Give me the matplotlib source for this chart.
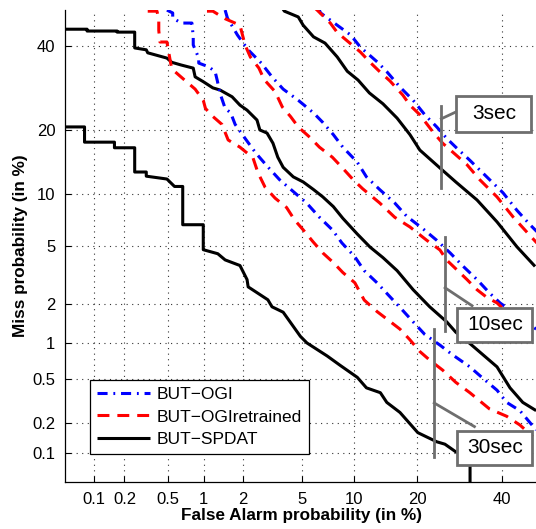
import math
import numpy as np
import matplotlib
matplotlib.use('Agg')
import matplotlib.pyplot as plt
from matplotlib.patches import Rectangle
from matplotlib.lines import Line2D
from matplotlib.ticker import FixedLocator, FixedFormatter, NullLocator

plt.rcParams['font.family'] = ['Liberation Sans', 'DejaVu Sans']

# ---- data (false alarm %, miss %) ----
# BUT-SPDAT (black)
spdat_3_fa = [3.75, 3.87, 4.75, 5.1, 5.9, 6.9, 8.1, 9.2, 10.5, 12.0, 14.0, 16.3, 18.6, 20.5, 24.7, 28.3, 33.5, 38.7, 44.1, 49.1]
spdat_3_miss = [50.5, 49.6, 48.0, 45.7, 42.5, 40.8, 37.1, 33.4, 31.2, 28.1, 25.6, 22.5, 19.2, 16.4, 13.5, 11.5, 9.24, 6.96, 4.92, 3.68]

spdat_10_fa = [0.05, 0.085, 0.085, 0.17, 0.17, 0.25, 0.25, 0.32, 0.33, 0.49, 0.54, 0.65, 0.82, 0.85, 0.99,
               1.18, 1.34, 1.66, 1.9, 2.14, 2.52, 2.64, 2.96, 3.25, 3.5, 3.8, 4.42, 5.1, 5.9, 6.7, 7.7, 8.7,
               10.4, 12.1, 14.0, 16.3, 19.2, 22.5, 26.2, 28.3, 31.7, 38.7, 42.2, 45.7, 49.4]
spdat_10_miss = [44.6, 44.6, 44.1, 44.1, 43.8, 43.8, 39.5, 39.0, 38.2, 36.8, 35.7, 35.0, 34.2, 32.0, 30.8,
                 29.3, 28.8, 27.2, 25.3, 24.2, 22.1, 20.1, 19.5, 17.6, 15.2, 13.6, 12.2, 11.5, 10.5, 9.6, 8.5, 7.3,
                 5.9, 4.9, 4.2, 3.45, 2.55, 1.92, 1.48, 1.23, 1.0, 0.64, 0.42, 0.31, 0.26]

spdat_30_fa = [0.05, 0.08, 0.08, 0.16, 0.16, 0.25, 0.25, 0.32, 0.32, 0.49, 0.57, 0.67, 0.67, 0.99, 0.99,
               1.29, 1.47, 1.9, 2.14, 2.18, 3.0, 3.2, 3.8, 4.9, 5.38, 7.1, 8.4, 10.4, 11.6, 13.6, 14.6,
               16.8, 20.1, 21.9, 24.0, 25.8, 28.3, 30.75, 31.75, 31.75]
spdat_30_miss = [20.7, 20.7, 17.8, 17.8, 16.8, 16.8, 12.9, 12.9, 12.3, 11.9, 10.9, 10.9, 6.7, 6.7, 4.72,
                 4.45, 4.06, 3.73, 3.0, 2.67, 2.16, 1.92, 1.75, 1.14, 1.01, 0.79, 0.66, 0.52, 0.42, 0.38, 0.31,
                 0.25, 0.16, 0.145, 0.13, 0.123, 0.103, 0.095, 0.088, 0.02]

# BUT-OGIretrained (red)
retr_3_fa = [6.0, 6.2, 7.4, 8.1, 9.5, 10.8, 12.1, 13.5, 15.1, 17.3, 18.6, 20.5, 23.2, 25.3, 28.3, 31.0, 34.2, 38.7, 43.0, 47.0, 49.6]
retr_3_miss = [50.5, 49.9, 46.3, 43.7, 40.8, 38.4, 35.7, 33.3, 31.0, 27.6, 25.3, 23.2, 19.7, 17.6, 15.6, 14.0, 11.8, 9.6, 7.45, 6.0, 5.2]

retr_10_fa = [1.06, 1.18, 1.47, 1.9, 2.07, 2.26, 2.6, 2.83, 3.36, 3.75, 4.25, 4.75, 5.6, 6.4, 7.6, 8.6, 9.9,
              11.1, 13.5, 15.9, 18.6, 21.9, 24.7, 26.2, 28.3, 31.0, 33.5, 36.0, 38.7, 49.4]
retr_10_miss = [49.6, 49.6, 47.5, 45.7, 40.3, 37.1, 34.2, 31.3, 28.4, 24.9, 22.8, 20.7, 18.7, 16.9, 15.2, 13.6, 11.8,
                10.6, 8.9, 7.4, 6.5, 5.4, 4.7, 4.05, 3.55, 3.0, 2.55, 2.25, 2.05, 1.06]

retr_30_fa = [0.33, 0.40, 0.415, 0.415, 0.425, 0.49, 0.52, 0.54, 0.67, 0.85, 0.99, 1.03, 1.14, 1.39, 1.55, 1.9,
              2.36, 2.56, 2.87, 3.36, 4.0, 4.5, 5.1, 5.85, 6.7, 7.7, 8.7, 10.1, 11.3, 13.1, 14.8, 16.8, 18.6,
              20.5, 22.5, 25.3, 28.3, 31.7, 36.7, 41.3, 44.9, 48.5]
retr_30_miss = [49.6, 49.6, 47.2, 44.3, 41.1, 41.1, 36.6, 34.0, 31.6, 29.0, 26.4, 24.6, 23.2, 21.2, 18.2, 16.9,
                15.1, 12.8, 10.8, 9.45, 8.4, 7.15, 6.25, 5.3, 4.5, 3.9, 3.35, 2.85, 2.15, 1.77, 1.53, 1.3, 1.07,
                0.86, 0.73, 0.6, 0.47, 0.38, 0.27, 0.23, 0.19, 0.146]

# BUT-OGI (blue)
ogi_3_fa = [6.3, 6.5, 8.1, 9.6, 10.8, 13.2, 14.6, 16.8, 19.2, 21.5, 24.0, 26.2, 28.3, 31.7, 36.0, 40.3, 44.1, 47.7, 49.6]
ogi_3_miss = [50.5, 49.1, 45.7, 43.0, 39.7, 35.7, 33.3, 29.5, 26.4, 23.2, 20.7, 18.5, 16.9, 14.7, 12.2, 10.1, 8.1, 6.7, 6.1]

ogi_10_fa = [1.47, 1.53, 1.82, 2.18, 2.7, 3.2, 3.8, 4.75, 5.9, 6.7, 7.7, 8.7, 10.4, 11.6, 13.5, 15.9, 18.0,
             21.1, 24.0, 27.0, 30.0, 33.5, 36.7, 39.5, 49.4]
ogi_10_miss = [49.9, 47.7, 43.0, 39.0, 35.5, 32.0, 29.0, 26.4, 23.6, 21.6, 19.2, 16.9, 14.4, 12.2, 10.5, 8.9, 7.5,
               6.35, 5.4, 4.5, 3.7, 3.0, 2.42, 2.05, 1.3]

ogi_30_fa = [0.49, 0.55, 0.55, 0.65, 0.80, 0.82, 0.82, 0.91, 0.91, 1.1, 1.23, 1.28, 1.34, 1.47, 1.62, 1.75, 2.07,
             2.47, 2.96, 3.6, 4.45, 5.35, 6.4, 7.6, 8.6, 10.1, 11.3, 13.1, 14.8, 16.8, 19.2, 21.5, 24.7, 27.5,
             31.7, 35.0, 38.7, 41.3, 44.9, 47.7, 49.4]
ogi_30_miss = [49.9, 49.1, 47.7, 46.3, 46.3, 42.5, 40.3, 36.8, 35.5, 34.5, 33.3, 31.0, 28.1, 24.6, 23.6, 21.2, 18.5,
               15.9, 13.8, 11.8, 10.2, 8.9, 7.4, 6.25, 5.2, 4.25, 3.45, 2.85, 2.35, 1.9, 1.48, 1.18, 0.97, 0.81,
               0.64, 0.51, 0.4, 0.31, 0.26, 0.2, 0.17]

tick_vals = [0.1, 0.2, 0.5, 1, 2, 5, 10, 20, 40]
tick_labels = ['0.1', '0.2', '0.5', '1', '2', '5', '10', '20', '40']
durations = ['3sec', '10sec', '30sec']


# ---- normal deviate (probit) scale ----
_a = [-3.969683028665376e+01, 2.209460984245205e+02, -2.759285104469687e+02,
      1.383577518672690e+02, -3.066479806614716e+01, 2.506628277459239e+00]
_b = [-5.447609879822406e+01, 1.615858368580409e+02, -1.556989798598866e+02,
      6.680131188771972e+01, -1.328068155288572e+01]
_c = [-7.784894002430293e-03, -3.223964580411365e-01, -2.400758277161838e+00,
      -2.549671348122914e+00, 4.374664141464968e+00, 2.938163982698783e+00]
_d = [7.784695709041462e-03, 3.224671290700398e-01, 2.445134137142996e+00,
      3.754408661907416e+00]


def probit(pct):
    p = np.clip(np.asarray(pct, dtype=float) / 100.0, 1e-9, 1 - 1e-9)
    plow = 0.02425
    # tails
    q = np.sqrt(-2 * np.log(np.minimum(p, 1 - p)))
    xt = (((((_c[0]*q+_c[1])*q+_c[2])*q+_c[3])*q+_c[4])*q+_c[5]) / \
         ((((_d[0]*q+_d[1])*q+_d[2])*q+_d[3])*q+1)
    xt = np.where(p > 0.5, -xt, xt)
    # center
    qc = p - 0.5
    r = qc * qc
    xc = (((((_a[0]*r+_a[1])*r+_a[2])*r+_a[3])*r+_a[4])*r+_a[5])*qc / \
         (((((_b[0]*r+_b[1])*r+_b[2])*r+_b[3])*r+_b[4])*r+1)
    return np.where((p < plow) | (p > 1 - plow), xt, xc)


_erf = np.vectorize(math.erf, otypes=[float])


def inv_probit(x):
    x = np.asarray(x, dtype=float)
    return 50.0 * (1.0 + _erf(x / math.sqrt(2)))


fig = plt.figure(figsize=(5.36, 5.29), dpi=100)
ax = fig.add_axes([0.1216, 0.0892, 0.8827, 0.8924])
ax.set_xscale('function', functions=(probit, inv_probit))
ax.set_yscale('function', functions=(probit, inv_probit))

lw = 2.2
series = [
    (ogi_3_fa, ogi_3_miss, ogi_10_fa, ogi_10_miss, ogi_30_fa, ogi_30_miss),
    (retr_3_fa, retr_3_miss, retr_10_fa, retr_10_miss, retr_30_fa, retr_30_miss),
    (spdat_3_fa, spdat_3_miss, spdat_10_fa, spdat_10_miss, spdat_30_fa, spdat_30_miss),
]
styles = [
    dict(color='#0000ff', dashes=(3.3, 1.9, 0.6, 1.9), label='BUT\u2212OGI'),
    dict(color='#ff0000', dashes=(3.9, 2.6), label='BUT\u2212OGIretrained'),
    dict(color='black', linestyle='-', label='BUT\u2212SPDAT'),
]
for dur_i in range(3):
    for s_i, st in enumerate(styles):
        fa = series[s_i][2 * dur_i]
        miss = series[s_i][2 * dur_i + 1]
        kw = dict(st)
        if dur_i > 0:
            kw['label'] = None
        ax.plot(fa, miss, lw=lw, solid_capstyle='butt', dash_capstyle='butt', **kw)

ax.set_xlim(0.05, 50)
ax.set_ylim(0.05, 50)

for axis in (ax.xaxis, ax.yaxis):
    axis.set_major_locator(FixedLocator(tick_vals))
    axis.set_major_formatter(FixedFormatter(tick_labels))
    axis.set_minor_locator(NullLocator())

ax.grid(True, color='0.2', linestyle=(0, (1, 4)), lw=0.8)
ax.tick_params(direction='in', length=4, width=0.8, labelsize=12, top=False, right=False)
ax.tick_params(axis='x', pad=7)
ax.tick_params(axis='y', pad=7)
for side in ('top', 'right'):
    ax.spines[side].set_visible(False)
for side in ('left', 'bottom'):
    ax.spines[side].set_linewidth(0.9)

ax.set_xlabel('False Alarm probability (in %)', fontsize=12.3, fontweight='bold', labelpad=1)
ax.set_ylabel('Miss probability (in %)', fontsize=12.3, fontweight='bold', labelpad=3)

leg = ax.legend(loc='lower left', bbox_to_anchor=(0.053, 0.059), borderaxespad=0,
                fontsize=12.5, handlelength=3.05, handletextpad=0.4, labelspacing=0.42,
                borderpad=0.4, fancybox=False, edgecolor='black', framealpha=1)
leg.get_frame().set_linewidth(0.9)

# ---- duration call-outs (axes fraction coords) ----
gray = '#6e6e6e'
callouts = {
    '3sec': dict(box=(0.827, 0.742, 0.158, 0.076), vline=(0.795, 0.623, 0.797), link=((0.795, 0.769), (0.827, 0.784))),
    '10sec': dict(box=(0.829, 0.297, 0.158, 0.072), vline=(0.803, 0.320, 0.519), link=((0.803, 0.411), (0.860, 0.373))),
    '30sec': dict(box=(0.829, 0.036, 0.158, 0.072), vline=(0.780, 0.053, 0.324), link=((0.780, 0.167), (0.865, 0.117))),
}
for name in durations:
    c = callouts[name]
    vx, vy0, vy1 = c['vline']
    ax.add_line(Line2D([vx, vx], [vy0, vy1], transform=ax.transAxes, color=gray, lw=2, zorder=5))
    (lx0, ly0), (lx1, ly1) = c['link']
    ax.add_line(Line2D([lx0, lx1], [ly0, ly1], transform=ax.transAxes, color=gray, lw=2, zorder=5))
    bx, by, bw, bh = c['box']
    ax.add_patch(Rectangle((bx, by), bw, bh, transform=ax.transAxes, facecolor='white',
                           edgecolor=gray, lw=2, zorder=6, clip_on=False))
    ax.text(bx + bw / 2, by + bh / 2, name, transform=ax.transAxes, ha='center', va='center',
            fontsize=15, zorder=7)

fig.savefig('out.png', dpi=100)
